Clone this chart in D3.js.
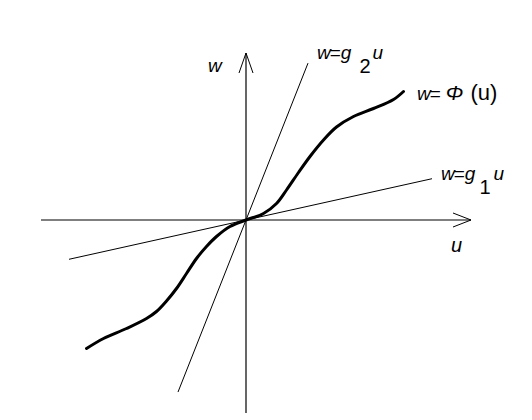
<!DOCTYPE html>
<html><head><meta charset="utf-8">
<script src="https://cdn.jsdelivr.net/npm/d3@7"></script>
<style>body{margin:0;background:#fff}svg{display:block}text{font-family:"Liberation Sans",Arial,sans-serif;fill:#000}</style>
</head><body><div id="c"></div>
<script>
// Curve w = Phi(u), in chart units
const phiU = [-3.19,-2.85,-2.39,-1.99,-1.79,-1.59,-1.39,-1.19,-0.99,-0.79,-0.59,-0.32,0,0.35,0.61,0.81,1.05,1.28,1.55,1.81,2.15,2.55,2.95,3.15];
const phiW = [-2.57,-2.37,-2.17,-1.97,-1.83,-1.62,-1.37,-1.07,-0.77,-0.53,-0.33,-0.13,0,0.13,0.33,0.6,0.95,1.27,1.6,1.86,2.07,2.23,2.41,2.57];
// Lines through origin: w = g u
const g1 = 0.222, g1Range = [-3.54, 3.72];
const g2 = 2.53, g2Range = [-1.36, 1.24];
const xDomain = [-4.1, 4.5];
const yDomain = [-3.86, 3.34];

const W = 532, H = 420;
const svg = d3.select("#c").append("svg").attr("width", W).attr("height", H);
const x = d3.scaleLinear().domain(xDomain).range([41, 471]);
const y = d3.scaleLinear().domain(yDomain).range([413, 53]);

// axes
svg.append("line").attr("x1", x(xDomain[0])).attr("x2", x(xDomain[1])).attr("y1", y(0)).attr("y2", y(0)).attr("stroke", "#000").attr("stroke-width", 1.2);
svg.append("line").attr("x1", x(0)).attr("x2", x(0)).attr("y1", y(yDomain[0])).attr("y2", y(yDomain[1])).attr("stroke", "#000").attr("stroke-width", 1.2);
// arrowheads (open chevrons)
const xe = x(xDomain[1]), ye = y(yDomain[1]);
svg.append("path").attr("d", `M${xe-18},${y(0)-7}L${xe},${y(0)}L${xe-18},${y(0)+7}`).attr("fill", "none").attr("stroke", "#000").attr("stroke-width", 1);
svg.append("path").attr("d", `M${x(0)-7},${ye+20}L${x(0)},${ye}L${x(0)+7},${ye+20}`).attr("fill", "none").attr("stroke", "#000").attr("stroke-width", 1);

// lines
const lineGen = d3.line().x(d => x(d[0])).y(d => y(d[1]));
[[g1, g1Range], [g2, g2Range]].forEach(([g, r]) => {
  svg.append("path").attr("d", lineGen(r.map(u => [u, g * u]))).attr("fill", "none").attr("stroke", "#000").attr("stroke-width", 1);
});
// curve
svg.append("path").attr("d", d3.line().curve(d3.curveCatmullRom).x(d => x(d[0])).y(d => y(d[1]))(phiU.map((u, i) => [u, phiW[i]])))
  .attr("fill", "none").attr("stroke", "#000").attr("stroke-width", 3).attr("stroke-linecap", "round");

// labels
function label(px, py, parts) {
  const t = svg.append("text").attr("x", px).attr("y", py).attr("font-size", 19);
  parts.forEach(p => {
    const s = t.append("tspan").text(p.t);
    if (p.i) s.attr("font-style", "italic");
    if (p.dy) s.attr("dy", p.dy);
    if (p.dx) s.attr("dx", p.dx);
    if (p.fs) s.attr("font-size", p.fs);
  });
}
label(208, 72, [{t: "w", i: 1}]);
label(451, 252, [{t: "u", i: 1, fs: 20}]);
label(317, 59, [{t: "w", i: 1}, {t: "=", dx: -1}, {t: "g", i: 1}, {t: "2", dy: 14, dx: 8, fs: 20}, {t: "u", i: 1, dy: -14, dx: 2}]);
label(441, 180, [{t: "w", i: 1}, {t: "=", dx: -1}, {t: "g", i: 1}, {t: "1", dy: 14, dx: 4, fs: 20}, {t: "u", i: 1, dy: -14, dx: 3}]);
label(417, 100, [{t: "w", i: 1}, {t: "=", dx: -1}, {t: "\u03A6", i: 1, dx: 5, fs: 21}, {t: "(u)", dx: 7, fs: 22}]);
</script></body></html>
